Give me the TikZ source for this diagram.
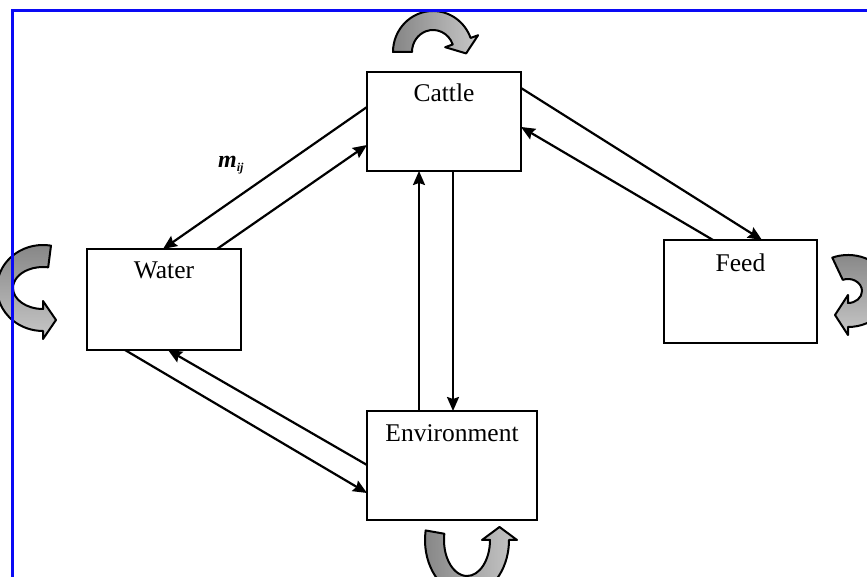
\documentclass[tikz,border=0pt]{standalone}
\usepackage{fontspec}
\setmainfont{Liberation Serif}
\usetikzlibrary{arrows.meta,calc}
\tikzset{
  box/.style={draw, line width=2.8pt, rectangle, anchor=north west, inner xsep=0pt, inner ysep=0pt,
    outer sep=0pt, font=\fontsize{25.5}{30}\selectfont, text height=30pt},
  conn/.style={line width=2.2pt, -{Stealth[length=14pt,width=12pt,inset=2pt]}},
  loopfill/.style={draw=black, line width=2pt, line join=round},
  hshade/.style={left color=black!48,right color=black!22},
  vshade/.style={top color=black!48,bottom color=black!22},
  frameline/.style={draw={rgb,255:red,10;green,10;blue,245}, line width=3pt},
}
% #1 shading style, #2 x, #3 y, #4 Rx, #5 Ry, #6 rx, #7 ry, #8 start angle, #9 end angle
\newcommand\grayloop[9]{%
  \pgfmathsetmacro\gltdir{ifthenelse(#9<#8,-90,90)}%
  \pgfmathsetmacro\gltang{#9+\gltdir}%
  \pgfmathsetmacro\glsx{#4*cos(#8)}\pgfmathsetmacro\glsy{#5*sin(#8)}%
  \pgfmathsetmacro\glax{(#4+8)*cos(#9)}\pgfmathsetmacro\glay{(#5+8)*sin(#9)}%
  \pgfmathsetmacro\gltx{(#4+#6)/2*cos(#9)+13*cos(\gltang)}%
  \pgfmathsetmacro\glty{(#5+#7)/2*sin(#9)+13*sin(\gltang)}%
  \pgfmathsetmacro\glbx{(#6-8)*cos(#9)}\pgfmathsetmacro\glby{(#7-8)*sin(#9)}%
  \pgfmathsetmacro\glcx{#6*cos(#9)}\pgfmathsetmacro\glcy{#7*sin(#9)}%
  \begin{scope}[shift={(#2,#3)}]
    \path[loopfill,#1] (\glsx,\glsy) arc[start angle=#8,end angle=#9,x radius=#4,y radius=#5]
      -- (\glax,\glay) -- (\gltx,\glty) -- (\glbx,\glby)
      -- (\glcx,\glcy) arc[start angle=#9,end angle=#8,x radius=#6,y radius=#7] -- cycle;
  \end{scope}}
\begin{document}
\begin{tikzpicture}[x=1pt,y=1pt]
\useasboundingbox (0,0) rectangle (867,577);
\clip (0,0) rectangle (867,577);
\fill[white] (0,0) rectangle (867,577);

% self loops
\grayloop{hshade}{433}{525}{40}{41}{21}{22}{180}{20}
\grayloop{hshade}{467}{37}{42}{55}{23}{36}{170}{360}
\grayloop{vshade}{43}{289}{46}{43}{30}{21}{80}{270}
\grayloop{vshade}{848}{286}{42}{36}{14}{12}{112}{-90}

% boxes
\node[box, minimum width=154pt, text depth=69pt] (cattle) at (367,505) {Cattle};
\node[box, minimum width=154pt, text depth=71pt] (water) at (87,328) {Water};
\node[box, minimum width=170pt, text height=31pt, text depth=78pt] (env) at (367,166) {Environment};
\node[box, minimum width=153pt, text height=32pt, text depth=71pt] (feed) at (664,337) {Feed};

% connectors
\draw[conn] ([yshift=-35pt]cattle.north west) -- ([xshift=76pt]water.north west);
\draw[conn] ([xshift=130pt]water.north west) -- ([yshift=-73pt]cattle.north west);
\draw[conn] ([yshift=-16pt]cattle.north east) -- ([xshift=98pt]feed.north west);
\draw[conn] ([xshift=49pt]feed.north west) -- ([yshift=-55pt]cattle.north east);
\draw[conn] ([xshift=52pt]env.north west) -- ([xshift=52pt]cattle.south west);
\draw[conn] ([xshift=86pt]cattle.south west) -- ([xshift=86pt]env.north west);
\draw[conn] ([xshift=38pt]water.south west) -- ([yshift=-82pt]env.north west);
\draw[conn] ([yshift=-54pt]env.north west) -- ([xshift=81pt]water.south west);

% label
\node[anchor=base west, inner sep=0pt, font=\fontsize{24}{26}\selectfont\bfseries\itshape] (mij) at (218,409)
  {m\raisebox{-4pt}{\fontsize{12}{12}\selectfont ij}};

% frame
\draw[frameline] (12,0) -- (12,566) -- (867,566);
\end{tikzpicture}
\end{document}
